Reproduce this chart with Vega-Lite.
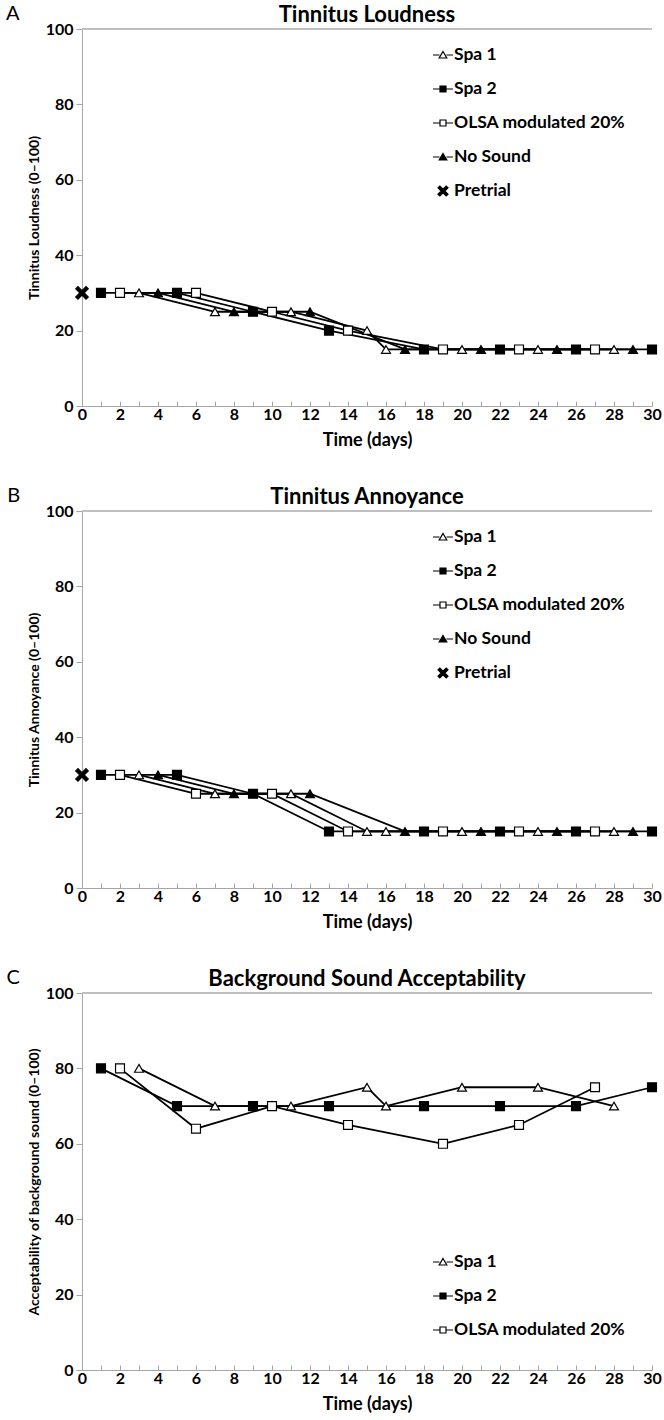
{
  "$schema": "https://vega.github.io/schema/vega-lite/v6.json",
  "padding": {"left": 6, "top": 4, "right": 8, "bottom": 0},
  "background": "white",
  "datasets": {
    "d": [
      {"panel": "A", "series": "Pretrial", "day": 0, "value": 30},
      {"panel": "A", "series": "Spa 1", "day": 3, "value": 30},
      {"panel": "A", "series": "Spa 1", "day": 7, "value": 25},
      {"panel": "A", "series": "Spa 1", "day": 11, "value": 25},
      {"panel": "A", "series": "Spa 1", "day": 15, "value": 20},
      {"panel": "A", "series": "Spa 1", "day": 16, "value": 15},
      {"panel": "A", "series": "Spa 1", "day": 20, "value": 15},
      {"panel": "A", "series": "Spa 1", "day": 24, "value": 15},
      {"panel": "A", "series": "Spa 1", "day": 28, "value": 15},
      {"panel": "A", "series": "Spa 2", "day": 1, "value": 30},
      {"panel": "A", "series": "Spa 2", "day": 5, "value": 30},
      {"panel": "A", "series": "Spa 2", "day": 9, "value": 25},
      {"panel": "A", "series": "Spa 2", "day": 13, "value": 20},
      {"panel": "A", "series": "Spa 2", "day": 18, "value": 15},
      {"panel": "A", "series": "Spa 2", "day": 22, "value": 15},
      {"panel": "A", "series": "Spa 2", "day": 26, "value": 15},
      {"panel": "A", "series": "Spa 2", "day": 30, "value": 15},
      {"panel": "A", "series": "OLSA modulated 20%", "day": 2, "value": 30},
      {"panel": "A", "series": "OLSA modulated 20%", "day": 6, "value": 30},
      {"panel": "A", "series": "OLSA modulated 20%", "day": 10, "value": 25},
      {"panel": "A", "series": "OLSA modulated 20%", "day": 14, "value": 20},
      {"panel": "A", "series": "OLSA modulated 20%", "day": 19, "value": 15},
      {"panel": "A", "series": "OLSA modulated 20%", "day": 23, "value": 15},
      {"panel": "A", "series": "OLSA modulated 20%", "day": 27, "value": 15},
      {"panel": "A", "series": "No Sound", "day": 4, "value": 30},
      {"panel": "A", "series": "No Sound", "day": 8, "value": 25},
      {"panel": "A", "series": "No Sound", "day": 12, "value": 25},
      {"panel": "A", "series": "No Sound", "day": 17, "value": 15},
      {"panel": "A", "series": "No Sound", "day": 21, "value": 15},
      {"panel": "A", "series": "No Sound", "day": 25, "value": 15},
      {"panel": "A", "series": "No Sound", "day": 29, "value": 15},

      {"panel": "B", "series": "Pretrial", "day": 0, "value": 30},
      {"panel": "B", "series": "Spa 1", "day": 3, "value": 30},
      {"panel": "B", "series": "Spa 1", "day": 7, "value": 25},
      {"panel": "B", "series": "Spa 1", "day": 11, "value": 25},
      {"panel": "B", "series": "Spa 1", "day": 15, "value": 15},
      {"panel": "B", "series": "Spa 1", "day": 16, "value": 15},
      {"panel": "B", "series": "Spa 1", "day": 20, "value": 15},
      {"panel": "B", "series": "Spa 1", "day": 24, "value": 15},
      {"panel": "B", "series": "Spa 1", "day": 28, "value": 15},
      {"panel": "B", "series": "Spa 2", "day": 1, "value": 30},
      {"panel": "B", "series": "Spa 2", "day": 5, "value": 30},
      {"panel": "B", "series": "Spa 2", "day": 9, "value": 25},
      {"panel": "B", "series": "Spa 2", "day": 13, "value": 15},
      {"panel": "B", "series": "Spa 2", "day": 18, "value": 15},
      {"panel": "B", "series": "Spa 2", "day": 22, "value": 15},
      {"panel": "B", "series": "Spa 2", "day": 26, "value": 15},
      {"panel": "B", "series": "Spa 2", "day": 30, "value": 15},
      {"panel": "B", "series": "OLSA modulated 20%", "day": 2, "value": 30},
      {"panel": "B", "series": "OLSA modulated 20%", "day": 6, "value": 25},
      {"panel": "B", "series": "OLSA modulated 20%", "day": 10, "value": 25},
      {"panel": "B", "series": "OLSA modulated 20%", "day": 14, "value": 15},
      {"panel": "B", "series": "OLSA modulated 20%", "day": 19, "value": 15},
      {"panel": "B", "series": "OLSA modulated 20%", "day": 23, "value": 15},
      {"panel": "B", "series": "OLSA modulated 20%", "day": 27, "value": 15},
      {"panel": "B", "series": "No Sound", "day": 4, "value": 30},
      {"panel": "B", "series": "No Sound", "day": 8, "value": 25},
      {"panel": "B", "series": "No Sound", "day": 12, "value": 25},
      {"panel": "B", "series": "No Sound", "day": 17, "value": 15},
      {"panel": "B", "series": "No Sound", "day": 21, "value": 15},
      {"panel": "B", "series": "No Sound", "day": 25, "value": 15},
      {"panel": "B", "series": "No Sound", "day": 29, "value": 15},

      {"panel": "C", "series": "Spa 1", "day": 3, "value": 80},
      {"panel": "C", "series": "Spa 1", "day": 7, "value": 70},
      {"panel": "C", "series": "Spa 1", "day": 11, "value": 70},
      {"panel": "C", "series": "Spa 1", "day": 15, "value": 75},
      {"panel": "C", "series": "Spa 1", "day": 16, "value": 70},
      {"panel": "C", "series": "Spa 1", "day": 20, "value": 75},
      {"panel": "C", "series": "Spa 1", "day": 24, "value": 75},
      {"panel": "C", "series": "Spa 1", "day": 28, "value": 70},
      {"panel": "C", "series": "Spa 2", "day": 1, "value": 80},
      {"panel": "C", "series": "Spa 2", "day": 5, "value": 70},
      {"panel": "C", "series": "Spa 2", "day": 9, "value": 70},
      {"panel": "C", "series": "Spa 2", "day": 13, "value": 70},
      {"panel": "C", "series": "Spa 2", "day": 18, "value": 70},
      {"panel": "C", "series": "Spa 2", "day": 22, "value": 70},
      {"panel": "C", "series": "Spa 2", "day": 26, "value": 70},
      {"panel": "C", "series": "Spa 2", "day": 30, "value": 75},
      {"panel": "C", "series": "OLSA modulated 20%", "day": 2, "value": 80},
      {"panel": "C", "series": "OLSA modulated 20%", "day": 6, "value": 64},
      {"panel": "C", "series": "OLSA modulated 20%", "day": 10, "value": 70},
      {"panel": "C", "series": "OLSA modulated 20%", "day": 14, "value": 65},
      {"panel": "C", "series": "OLSA modulated 20%", "day": 19, "value": 60},
      {"panel": "C", "series": "OLSA modulated 20%", "day": 23, "value": 65},
      {"panel": "C", "series": "OLSA modulated 20%", "day": 27, "value": 75}
    ]
  },
  "config": {
    "view": {"stroke": null},
    "axis": {
      "domainColor": "#a6a6a6", "tickColor": "#a6a6a6", "grid": false,
      "labelFont": "Lato", "labelFontWeight": "bold", "labelFontSize": 16, "labelColor": "black",
      "titleFont": "Lato", "titleFontWeight": "bold", "titleFontSize": 14, "titleColor": "black"
    },
    "title": {"font": "Lato", "fontSize": 22, "fontWeight": "bold", "color": "black", "offset": -6},
    "legend": {
      "orient": "none", "title": null, "labelFont": "Lato", "labelFontSize": 17.5, "labelFontWeight": "bold", "labelColor": "black", "labelLimit": 300,
      "symbolSize": 400, "rowPadding": 14, "labelOffset": 0, "padding": 0,
      "symbolOpacity": 1, "symbolStrokeColor": "black", "symbolStrokeWidth": 1.2
    }
  },
  "spacing": 37,
  "resolve": {"scale": {"shape": "independent", "fill": "independent", "stroke": "independent", "x": "independent", "y": "independent"}, "legend": {"shape": "independent"}},
  "vconcat": [
    {
      "title": {"text": "A", "orient": "left", "anchor": "end", "angle": 0, "fontSize": 20, "fontWeight": "normal", "baseline": "top", "offset": -6, "frame": "bounds"},
      "vconcat": [
        {
          "title": "Tinnitus Loudness",
          "width": 570, "height": 377,
          "data": {"name": "d"},
          "transform": [{"filter": "datum.panel === 'A'"}],
          "encoding": {
            "x": {"field": "day", "type": "quantitative", "scale": {"domain": [0, 30], "nice": false},
                  "axis": {"title": "Time (days)", "values": [0,1,2,3,4,5,6,7,8,9,10,11,12,13,14,15,16,17,18,19,20,21,22,23,24,25,26,27,28,29,30], "labelExpr": "datum.value % 2 === 0 ? datum.label : ''", "labelOverlap": false, "labelFlush": false, "tickSize": -5, "labelPadding": 5, "titlePadding": 9, "titleFontSize": 18}},
            "y": {"field": "value", "type": "quantitative", "scale": {"domain": [0, 100], "nice": false},
                  "axis": {"title": "Tinnitus Loudness (0–100)", "values": [0,20,40,60,80,100], "tickSize": 6, "labelPadding": 3, "titlePadding": 4}}
          },
          "resolve": {"scale": {"shape": "independent", "fill": "independent", "stroke": "independent"}},
          "layer": [
            {"mark": {"type": "rule", "color": "#bfbfbf", "strokeWidth": 1}, "encoding": {"y": {"datum": 100}, "x": null}},
            {"transform": [{"filter": "datum.series !== 'Pretrial'"}], "mark": {"type": "line", "color": "black", "strokeWidth": 1.8}, "encoding": {"detail": {"field": "series"}}},
            {"mark": {"type": "point", "filled": true, "stroke": "black", "strokeWidth": 1.2, "size": 80, "opacity": 1},
             "encoding": {
               "shape": {"field": "series", "type": "nominal", "legend": null,
                 "scale": {"domain": ["Spa 1", "Spa 2", "OLSA modulated 20%", "No Sound", "Pretrial"], "range": ["triangle-up", "square", "square", "triangle-up", "M-1.4,-0.9L-0.9,-1.4L0,-0.5L0.9,-1.4L1.4,-0.9L0.5,0L1.4,0.9L0.9,1.4L0,0.5L-0.9,1.4L-1.4,0.9L-0.5,0Z"]}},
               "fill": {"field": "series", "type": "nominal", "legend": null,
                 "scale": {"domain": ["Spa 1", "Spa 2", "OLSA modulated 20%", "No Sound", "Pretrial"], "range": ["white", "black", "white", "black", "black"]}}
             }},
            {"mark": {"type": "point", "filled": true, "strokeWidth": 1.2, "opacity": 0},
             "encoding": {
               "shape": {"field": "series", "type": "nominal",
                 "scale": {"domain": ["Spa 1", "Spa 2", "OLSA modulated 20%", "No Sound", "Pretrial"], "range": ["M-1,0H-0.35M0.35,0H1M0,-0.35L0.38,0.3H-0.38Z", "M-1,0H-0.3M0.3,0H1M-0.3,-0.3H0.3V0.3H-0.3Z", "M-1,0H-0.3M0.3,0H1M-0.3,-0.3H0.3V0.3H-0.3Z", "M-1,0H-0.35M0.35,0H1M0,-0.35L0.38,0.3H-0.38Z", "M-0.5,-0.32L-0.32,-0.5L0,-0.18L0.32,-0.5L0.5,-0.32L0.18,0L0.5,0.32L0.32,0.5L0,0.18L-0.32,0.5L-0.5,0.32L-0.18,0Z"]},
                 "legend": {"legendX": 350, "legendY": 15}},
               "fill": {"field": "series", "type": "nominal", "legend": null,
                 "scale": {"domain": ["Spa 1", "Spa 2", "OLSA modulated 20%", "No Sound", "Pretrial"], "range": ["white", "black", "white", "black", "black"]}},
               "stroke": {"field": "series", "type": "nominal", "legend": null,
                 "scale": {"domain": ["Spa 1", "Spa 2", "OLSA modulated 20%", "No Sound", "Pretrial"], "range": ["black", "black", "black", "black", "black"]}}
             }}
          ]
        }
      ]
    },
    {
      "title": {"text": "B", "orient": "left", "anchor": "end", "angle": 0, "fontSize": 20, "fontWeight": "normal", "baseline": "top", "offset": -6, "frame": "bounds"},
      "vconcat": [
        {
          "title": "Tinnitus Annoyance",
          "width": 570, "height": 377,
          "data": {"name": "d"},
          "transform": [{"filter": "datum.panel === 'B'"}],
          "encoding": {
            "x": {"field": "day", "type": "quantitative", "scale": {"domain": [0, 30], "nice": false},
                  "axis": {"title": "Time (days)", "values": [0,1,2,3,4,5,6,7,8,9,10,11,12,13,14,15,16,17,18,19,20,21,22,23,24,25,26,27,28,29,30], "labelExpr": "datum.value % 2 === 0 ? datum.label : ''", "labelOverlap": false, "labelFlush": false, "tickSize": -5, "labelPadding": 5, "titlePadding": 9, "titleFontSize": 18}},
            "y": {"field": "value", "type": "quantitative", "scale": {"domain": [0, 100], "nice": false},
                  "axis": {"title": "Tinnitus Annoyance (0–100)", "values": [0,20,40,60,80,100], "tickSize": 6, "labelPadding": 3, "titlePadding": 4}}
          },
          "resolve": {"scale": {"shape": "independent", "fill": "independent", "stroke": "independent"}},
          "layer": [
            {"mark": {"type": "rule", "color": "#bfbfbf", "strokeWidth": 1}, "encoding": {"y": {"datum": 100}, "x": null}},
            {"transform": [{"filter": "datum.series !== 'Pretrial'"}], "mark": {"type": "line", "color": "black", "strokeWidth": 1.8}, "encoding": {"detail": {"field": "series"}}},
            {"mark": {"type": "point", "filled": true, "stroke": "black", "strokeWidth": 1.2, "size": 80, "opacity": 1},
             "encoding": {
               "shape": {"field": "series", "type": "nominal", "legend": null,
                 "scale": {"domain": ["Spa 1", "Spa 2", "OLSA modulated 20%", "No Sound", "Pretrial"], "range": ["triangle-up", "square", "square", "triangle-up", "M-1.4,-0.9L-0.9,-1.4L0,-0.5L0.9,-1.4L1.4,-0.9L0.5,0L1.4,0.9L0.9,1.4L0,0.5L-0.9,1.4L-1.4,0.9L-0.5,0Z"]}},
               "fill": {"field": "series", "type": "nominal", "legend": null,
                 "scale": {"domain": ["Spa 1", "Spa 2", "OLSA modulated 20%", "No Sound", "Pretrial"], "range": ["white", "black", "white", "black", "black"]}}
             }},
            {"mark": {"type": "point", "filled": true, "strokeWidth": 1.2, "opacity": 0},
             "encoding": {
               "shape": {"field": "series", "type": "nominal",
                 "scale": {"domain": ["Spa 1", "Spa 2", "OLSA modulated 20%", "No Sound", "Pretrial"], "range": ["M-1,0H-0.35M0.35,0H1M0,-0.35L0.38,0.3H-0.38Z", "M-1,0H-0.3M0.3,0H1M-0.3,-0.3H0.3V0.3H-0.3Z", "M-1,0H-0.3M0.3,0H1M-0.3,-0.3H0.3V0.3H-0.3Z", "M-1,0H-0.35M0.35,0H1M0,-0.35L0.38,0.3H-0.38Z", "M-0.5,-0.32L-0.32,-0.5L0,-0.18L0.32,-0.5L0.5,-0.32L0.18,0L0.5,0.32L0.32,0.5L0,0.18L-0.32,0.5L-0.5,0.32L-0.18,0Z"]},
                 "legend": {"legendX": 350, "legendY": 15}},
               "fill": {"field": "series", "type": "nominal", "legend": null,
                 "scale": {"domain": ["Spa 1", "Spa 2", "OLSA modulated 20%", "No Sound", "Pretrial"], "range": ["white", "black", "white", "black", "black"]}},
               "stroke": {"field": "series", "type": "nominal", "legend": null,
                 "scale": {"domain": ["Spa 1", "Spa 2", "OLSA modulated 20%", "No Sound", "Pretrial"], "range": ["black", "black", "black", "black", "black"]}}
             }}
          ]
        }
      ]
    },
    {
      "title": {"text": "C", "orient": "left", "anchor": "end", "angle": 0, "fontSize": 20, "fontWeight": "normal", "baseline": "top", "offset": -6, "frame": "bounds"},
      "vconcat": [
        {
          "title": "Background Sound Acceptability",
          "width": 570, "height": 377,
          "data": {"name": "d"},
          "transform": [{"filter": "datum.panel === 'C'"}],
          "encoding": {
            "x": {"field": "day", "type": "quantitative", "scale": {"domain": [0, 30], "nice": false},
                  "axis": {"title": "Time (days)", "values": [0,1,2,3,4,5,6,7,8,9,10,11,12,13,14,15,16,17,18,19,20,21,22,23,24,25,26,27,28,29,30], "labelExpr": "datum.value % 2 === 0 ? datum.label : ''", "labelOverlap": false, "labelFlush": false, "tickSize": -5, "labelPadding": 5, "titlePadding": 9, "titleFontSize": 18}},
            "y": {"field": "value", "type": "quantitative", "scale": {"domain": [0, 100], "nice": false},
                  "axis": {"title": "Acceptability of background sound (0–100)", "values": [0,20,40,60,80,100], "tickSize": 6, "labelPadding": 3, "titlePadding": 4}}
          },
          "resolve": {"scale": {"shape": "independent", "fill": "independent", "stroke": "independent"}},
          "layer": [
            {"mark": {"type": "rule", "color": "#bfbfbf", "strokeWidth": 1}, "encoding": {"y": {"datum": 100}, "x": null}},
            {"mark": {"type": "line", "color": "black", "strokeWidth": 1.8}, "encoding": {"detail": {"field": "series"}}},
            {"mark": {"type": "point", "filled": true, "stroke": "black", "strokeWidth": 1.2, "size": 80, "opacity": 1},
             "encoding": {
               "shape": {"field": "series", "type": "nominal", "legend": null,
                 "scale": {"domain": ["Spa 1", "Spa 2", "OLSA modulated 20%"], "range": ["triangle-up", "square", "square"]}},
               "fill": {"field": "series", "type": "nominal", "legend": null,
                 "scale": {"domain": ["Spa 1", "Spa 2", "OLSA modulated 20%"], "range": ["white", "black", "white"]}}
             }},
            {"mark": {"type": "point", "filled": true, "strokeWidth": 1.2, "opacity": 0},
             "encoding": {
               "shape": {"field": "series", "type": "nominal",
                 "scale": {"domain": ["Spa 1", "Spa 2", "OLSA modulated 20%"], "range": ["M-1,0H-0.35M0.35,0H1M0,-0.35L0.38,0.3H-0.38Z", "M-1,0H-0.3M0.3,0H1M-0.3,-0.3H0.3V0.3H-0.3Z", "M-1,0H-0.3M0.3,0H1M-0.3,-0.3H0.3V0.3H-0.3Z"]},
                 "legend": {"legendX": 350, "legendY": 258}},
               "fill": {"field": "series", "type": "nominal", "legend": null,
                 "scale": {"domain": ["Spa 1", "Spa 2", "OLSA modulated 20%"], "range": ["white", "black", "white"]}},
               "stroke": {"field": "series", "type": "nominal", "legend": null,
                 "scale": {"domain": ["Spa 1", "Spa 2", "OLSA modulated 20%"], "range": ["black", "black", "black"]}}
             }}
          ]
        }
      ]
    }
  ]
}
